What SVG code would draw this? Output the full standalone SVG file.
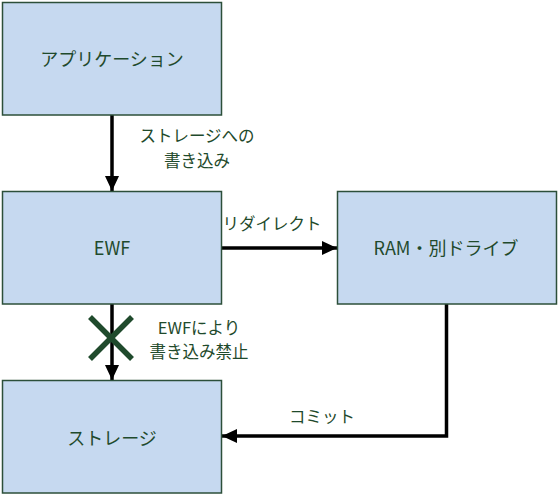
<svg xmlns="http://www.w3.org/2000/svg" width="559" height="496" viewBox="0 0 559 496">
<style>
.box{fill:#c6d9f0;stroke:#2c4f3a;stroke-width:1.5}
.t{font-family:"Noto Sans CJK JP","Noto Sans",sans-serif;fill:#1f4a2c;text-anchor:middle;dominant-baseline:central}
.main{font-size:18px}
.lbl{font-size:16.5px}
.con{fill:none;stroke:#000;stroke-width:3.5}
</style>
<defs>
<marker id="ah" markerUnits="userSpaceOnUse" markerWidth="16" markerHeight="16" viewBox="0 0 16 16" refX="15" refY="8" orient="auto">
<path d="M0,1 L15,8 L0,15 Z" fill="#000"/>
</marker>
</defs>
<rect width="559" height="496" fill="#fff"/>
<g id="connectors">
<line class="con" x1="112" y1="115" x2="112" y2="191" marker-end="url(#ah)"/>
<line class="con" x1="222" y1="248" x2="337" y2="248" marker-end="url(#ah)"/>
<line class="con" x1="112" y1="304" x2="112" y2="380" marker-end="url(#ah)"/>
<polyline class="con" points="446.5,304 446.5,436 222,436" marker-end="url(#ah)"/>
<g id="block-mark" stroke="#1f4a2c" stroke-width="5.5">
<line x1="90" y1="317" x2="132" y2="359"/>
<line x1="132" y1="317" x2="90" y2="359"/>
</g>
<text class="t lbl" x="197" y="135">ストレージへの</text>
<text class="t lbl" x="197" y="160">書き込み</text>
<text class="t lbl" x="272" y="223">リダイレクト</text>
<text class="t lbl" x="199" y="327">EWFにより</text>
<text class="t lbl" x="199" y="351">書き込み禁止</text>
<text class="t lbl" x="322" y="416">コミット</text>
</g>
<g id="app">
<rect class="box" x="2.5" y="2.5" width="219" height="112.5"/>
<text class="t main" x="112" y="58">アプリケーション</text>
</g>
<g id="ewf">
<rect class="box" x="2.5" y="191.5" width="219" height="112.5"/>
<text class="t main" x="112" y="247">EWF</text>
</g>
<g id="ram">
<rect class="box" x="337.5" y="191.5" width="219" height="112.5"/>
<text class="t main" x="446" y="247">RAM・別ドライブ</text>
</g>
<g id="storage">
<rect class="box" x="2.5" y="380.5" width="219" height="112.5"/>
<text class="t main" x="112" y="437">ストレージ</text>
</g>
</svg>
